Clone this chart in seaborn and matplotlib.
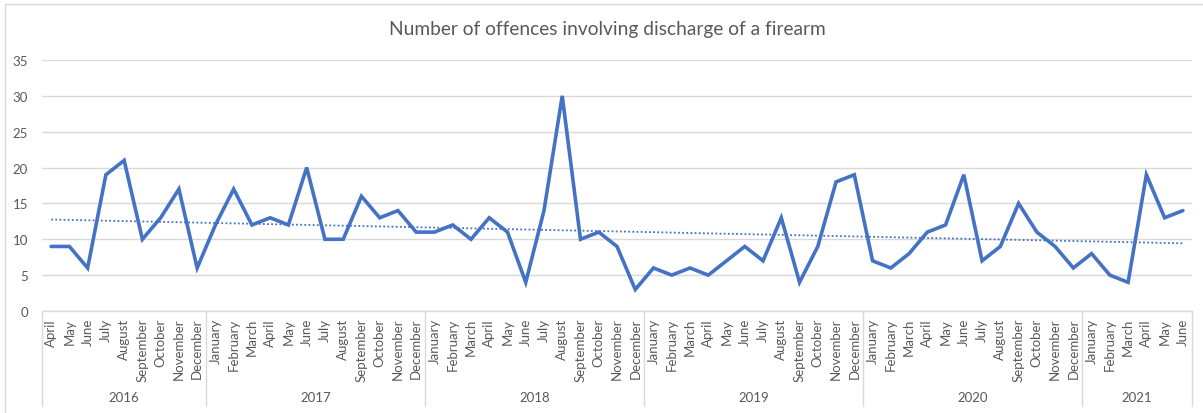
import numpy as np
import pandas as pd
import matplotlib
matplotlib.use("Agg")
import matplotlib.pyplot as plt
import matplotlib.transforms as mtransforms
from matplotlib.patches import Rectangle
import seaborn as sns

# Monthly counts, April 2016 - June 2021
years = ["2016", "2017", "2018", "2019", "2020", "2021"]
months_per_year = [
    ["April", "May", "June", "July", "August", "September", "October", "November", "December"],
    ["January", "February", "March", "April", "May", "June", "July", "August", "September", "October", "November", "December"],
    ["January", "February", "March", "April", "May", "June", "July", "August", "September", "October", "November", "December"],
    ["January", "February", "March", "April", "May", "June", "July", "August", "September", "October", "November", "December"],
    ["January", "February", "March", "April", "May", "June", "July", "August", "September", "October", "November", "December"],
    ["January", "February", "March", "April", "May", "June"],
]
offences_2016 = [9, 9, 6, 19, 21, 10, 13, 17, 6]
offences_2017 = [12, 17, 12, 13, 12, 20, 10, 10, 16, 13, 14, 11]
offences_2018 = [11, 12, 10, 13, 11, 4, 14, 30, 10, 11, 9, 3]
offences_2019 = [6, 5, 6, 5, 7, 9, 7, 13, 4, 9, 18, 19]
offences_2020 = [7, 6, 8, 11, 12, 19, 7, 9, 15, 11, 9, 6]
offences_2021 = [8, 5, 4, 19, 13, 14]
y_ticks = [0, 5, 10, 15, 20, 25, 30, 35]

values = offences_2016 + offences_2017 + offences_2018 + offences_2019 + offences_2020 + offences_2021
month_labels = [m for ms in months_per_year for m in ms]
year_col = [y for y, ms in zip(years, months_per_year) for _ in ms]
df = pd.DataFrame({"idx": np.arange(len(values)), "month": month_labels,
                   "year": year_col, "offences": values})

sns.set_theme(style="white")
plt.rcParams["font.family"] = ["Lato", "DejaVu Sans"]

TEXT = "#595959"
GRID = "#D9D9D9"
BLUE = "#4472C4"
FS = 9.5

W, H = 1203, 414
fig = plt.figure(figsize=(W / 100, H / 100), dpi=100)
x0, x1, yb, yt = 42, 1192, 312, 61
ax = fig.add_axes([x0 / W, 1 - yb / H, (x1 - x0) / W, (yb - yt) / H])

sns.lineplot(data=df, x="idx", y="offences", ax=ax, color=BLUE, linewidth=2.6,
             solid_joinstyle="miter", zorder=3)

# linear trend line
coef = np.polyfit(df["idx"], df["offences"], 1)
ax.plot(df["idx"], np.polyval(coef, df["idx"]), linestyle=(0, (1, 1.3)),
        color=BLUE, linewidth=1.3, zorder=2)

n = len(values)
ax.set_xlim(-0.5, n - 0.5)
ax.set_ylim(0, 35)
ax.set_yticks(y_ticks)
ax.yaxis.grid(True, color=GRID, linewidth=1.0)
ax.set_axisbelow(True)
for s in ["top", "right", "left"]:
    ax.spines[s].set_visible(False)
ax.spines["bottom"].set_color(GRID)
ax.spines["bottom"].set_linewidth(1.0)
ax.tick_params(axis="y", length=0, pad=10, labelsize=FS, labelcolor=TEXT)
ax.set_xticks(df["idx"])
ax.set_xticklabels(month_labels, rotation=90, fontsize=FS, color=TEXT, va="top")
ax.tick_params(axis="x", length=0, pad=5)
ax.set_xlabel("")
ax.set_ylabel("")

# year group labels and separators below the month labels
trans = mtransforms.blended_transform_factory(ax.transData, fig.transFigure)
sep_bottom = 1 - 407 / H
sep_top = 1 - yb / H
start = 0
bounds = [-0.5]
for y, ms in zip(years, months_per_year):
    end = start + len(ms)
    bounds.append(end - 0.5)
    fig.text((start + end - 1) / 2, 1 - 398 / H, y, transform=trans,
             ha="center", va="center", fontsize=FS, color=TEXT)
    start = end
for b in bounds:
    fig.add_artist(plt.Line2D([b, b], [sep_bottom, sep_top], transform=trans,
                              color=GRID, linewidth=1.0))

fig.text(607 / W, 1 - 30 / H, "Number of offences involving discharge of a firearm",
         ha="center", va="center", fontsize=13.8, color=TEXT)

# chart border
fig.add_artist(Rectangle((5 / W, -0.01), 1.02 - 5 / W, 1 - 5 / H + 0.01,
                         transform=fig.transFigure, fill=False,
                         edgecolor=GRID, linewidth=1.0))

fig.savefig("out.png", dpi=100)
